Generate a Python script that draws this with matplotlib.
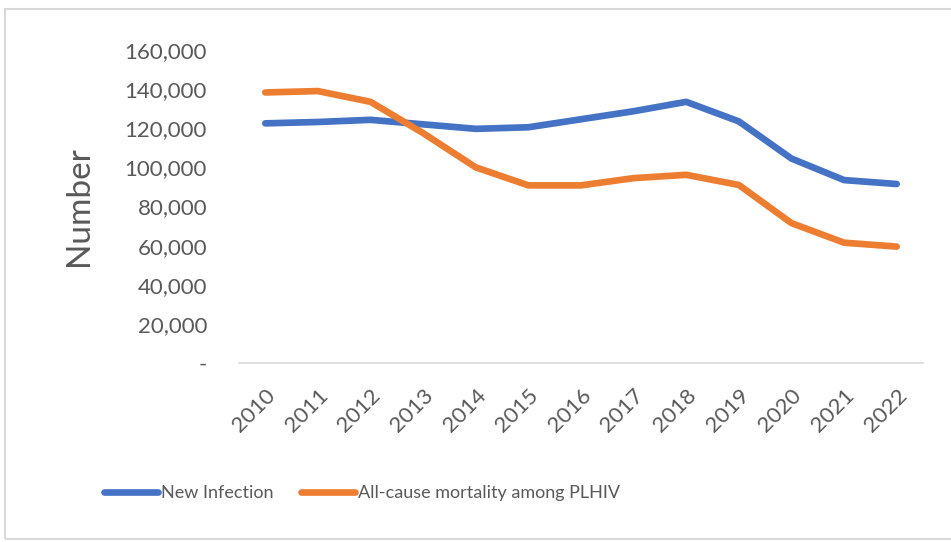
import matplotlib

matplotlib.use("Agg")
from matplotlib import pyplot as plt
from matplotlib.patches import Rectangle
from matplotlib.ticker import FuncFormatter
from matplotlib.transforms import ScaledTranslation

years = ["2010", "2011", "2012", "2013", "2014", "2015", "2016",
         "2017", "2018", "2019", "2020", "2021", "2022"]
new_infection = [122500, 123200, 124300, 122000, 119700, 120500, 124600,
                 128700, 133500, 123500, 104500, 93500, 91500]
all_cause_mortality = [138300, 139000, 133500, 117500, 100000, 90800, 90800,
                       94500, 96200, 91000, 71500, 61500, 59500]
y_ticks = [0, 20000, 40000, 60000, 80000, 100000, 120000, 140000, 160000]

BLUE = "#4472c4"
ORANGE = "#ed7d31"
TEXT = "#595959"

plt.rcParams["font.family"] = ["Lato", "DejaVu Sans"]

fig = plt.figure(figsize=(9.51, 5.42), dpi=100)
fig.patches.append(Rectangle((5 / 951, 3 / 542), 1.0, 530 / 542, transform=fig.transFigure,
                             fill=False, edgecolor="#d9d9d9", linewidth=1.5))

ax = fig.add_axes([239 / 951, 1 - 363 / 542, 684 / 951, 313 / 542])
x = range(len(years))
ax.plot(x, new_infection, color=BLUE, linewidth=4.8, solid_capstyle="round",
        label="New Infection")
ax.plot(x, all_cause_mortality, color=ORANGE, linewidth=4.8, solid_capstyle="round",
        label="All-cause mortality among PLHIV")

ax.set_xlim(-0.5, len(years) - 0.5)
ax.set_ylim(0, 160000)
ax.set_yticks(y_ticks)
ax.yaxis.set_major_formatter(FuncFormatter(lambda v, _: "-" if v == 0 else f"{v:,.0f}"))
ax.set_xticks(list(x))
ax.set_xticklabels(years, rotation=45, ha="right", va="top", rotation_mode="anchor")
shift = ScaledTranslation(3 / 100, 0, fig.dpi_scale_trans)
for lbl in ax.get_xticklabels():
    lbl.set_transform(lbl.get_transform() + shift)

for side in ("top", "right", "left"):
    ax.spines[side].set_visible(False)
ax.spines["bottom"].set_color("#d9d9d9")
ax.spines["bottom"].set_linewidth(1.2)
ax.tick_params(axis="both", length=0, labelsize=16, colors=TEXT)
ax.tick_params(axis="y", pad=23)
ax.tick_params(axis="x", pad=16)

ax.set_ylabel("Number", fontsize=24, color=TEXT, labelpad=22)

fig.legend(loc="center", bbox_to_anchor=(362 / 951, 1 - 493 / 542), ncol=2, frameon=False,
           fontsize=13, labelcolor=TEXT, handlelength=3.0, handletextpad=0.17,
           columnspacing=1.5)

fig.savefig("out.png", dpi=100)
